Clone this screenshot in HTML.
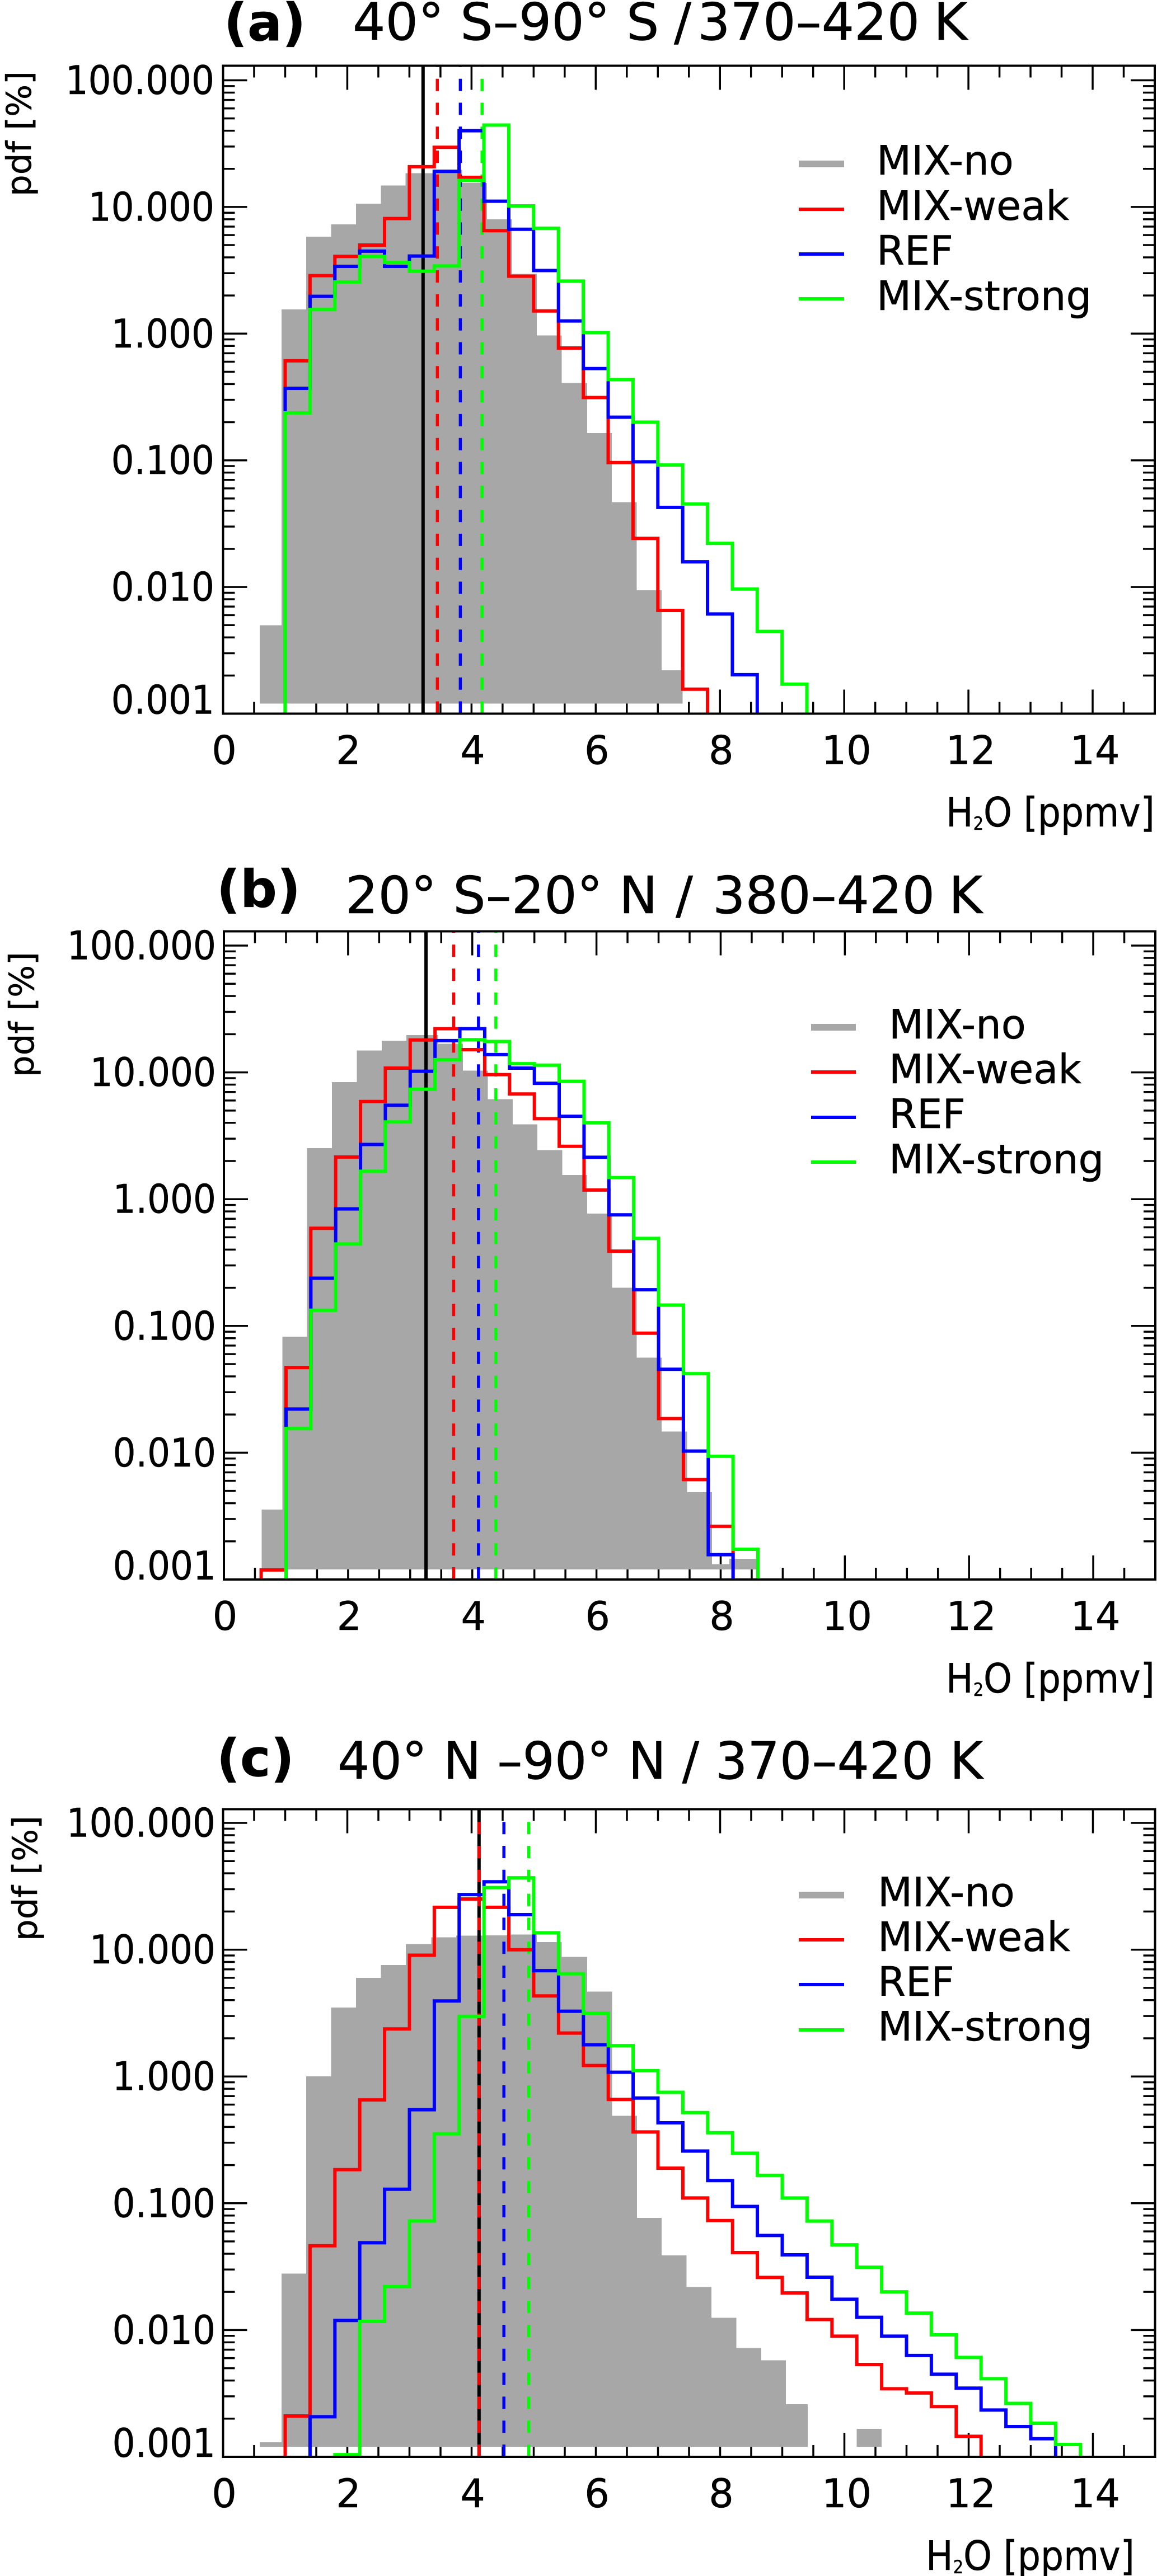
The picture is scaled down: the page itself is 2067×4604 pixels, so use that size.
<!DOCTYPE html>
<html lang="en">
<head>
<meta charset="utf-8">
<title>H2O pdf panels</title>
<style>
html,body{margin:0;padding:0;background:#fff;}
svg{display:block;}
text{font-family:"DejaVu Sans","Liberation Sans",sans-serif;fill:#000;stroke:#000;stroke-width:0.5px;}
.bold{font-weight:bold;}
</style>
</head>
<body>
<svg xmlns="http://www.w3.org/2000/svg" width="2067" height="4604" viewBox="0 0 2067 4604">
  <rect x="0" y="0" width="2067" height="4604" fill="#fff"/>

  <!-- Panel A -->
  <g id="marks-a"></g>
  <text class="bold" x="400" y="72" font-size="92">(a)</text>
  <text y="71" font-size="92"><tspan x="630">40° S–90° S</tspan><tspan x="1204">/</tspan><tspan x="1246">370–420</tspan><tspan x="1668">K</tspan></text>
  <text transform="translate(55,351) rotate(-90)" font-size="61">pdf [%]</text>
  <text transform="translate(1690,1477) scale(0.9,1)" font-size="72">H<tspan font-size="32" dy="6">2</tspan><tspan dy="-6">O [ppmv]</tspan></text>
  <g>
    <rect x="1427" y="287" width="81" height="12" fill="#a7a7a7"/>
    <rect x="1427" y="371" width="81" height="6" fill="#ff0000"/>
    <rect x="1427" y="451" width="81" height="6" fill="#0000ff"/>
    <rect x="1427" y="531" width="81" height="6" fill="#00ff00"/>
    <text x="1566" y="312" font-size="72">MIX-no</text>
    <text x="1566" y="393" font-size="72">MIX-weak</text>
    <text x="1566" y="473" font-size="72">REF</text>
    <text x="1566" y="554" font-size="72">MIX-strong</text>
  </g>

  <!-- Panel B -->
  <g id="marks-b"></g>
  <text class="bold" x="387" y="1621" font-size="92">(b)</text>
  <text y="1632" font-size="92"><tspan x="617">20° S–20° N</tspan><tspan x="1207">/</tspan><tspan x="1273">380–420</tspan><tspan x="1695">K</tspan></text>
  <text transform="translate(60,1925) rotate(-90)" font-size="61">pdf [%]</text>
  <text transform="translate(1690,3025) scale(0.9,1)" font-size="72">H<tspan font-size="32" dy="6">2</tspan><tspan dy="-6">O [ppmv]</tspan></text>
  <g>
    <rect x="1449" y="1830" width="80" height="12" fill="#a7a7a7"/>
    <rect x="1449" y="1913" width="80" height="6" fill="#ff0000"/>
    <rect x="1449" y="1994" width="80" height="6" fill="#0000ff"/>
    <rect x="1449" y="2074" width="80" height="6" fill="#00ff00"/>
    <text x="1588" y="1856" font-size="72">MIX-no</text>
    <text x="1588" y="1936" font-size="72">MIX-weak</text>
    <text x="1588" y="2016" font-size="72">REF</text>
    <text x="1588" y="2097" font-size="72">MIX-strong</text>
  </g>

  <!-- Panel C -->
  <g id="marks-c"></g>
  <text class="bold" x="387" y="3174" font-size="92">(c)</text>
  <text x="603" y="3179" font-size="92" textLength="1153" lengthAdjust="spacingAndGlyphs">40° N –90° N / 370–420 K</text>
  <text transform="translate(66,3469) rotate(-90)" font-size="61">pdf [%]</text>
  <text transform="translate(1654,4593) scale(0.9,1)" font-size="72">H<tspan font-size="32" dy="6">2</tspan><tspan dy="-6">O [ppmv]</tspan></text>
  <g>
    <rect x="1427" y="3381" width="81" height="12" fill="#a7a7a7"/>
    <rect x="1427" y="3464" width="81" height="6" fill="#ff0000"/>
    <rect x="1427" y="3544" width="81" height="6" fill="#0000ff"/>
    <rect x="1427" y="3625" width="81" height="6" fill="#00ff00"/>
    <text x="1568" y="3407" font-size="72">MIX-no</text>
    <text x="1568" y="3487" font-size="72">MIX-weak</text>
    <text x="1568" y="3567" font-size="72">REF</text>
    <text x="1568" y="3647" font-size="72">MIX-strong</text>
  </g>
</svg>
<script>
// ---- Shared axis data ----
const binWidth = 0.4;
const xTickValues = [0, 2, 4, 6, 8, 10, 12, 14];
const xTickLabels = ['0', '2', '4', '6', '8', '10', '12', '14'];
const yTickValues = [100, 10, 1, 0.1, 0.01, 0.001];
const yTickLabels = ['100.000', '10.000', '1.000', '0.100', '0.010', '0.001'];

// ---- Panel (a) 40S-90S / 370-420 K ----
const aGrayEdges = [0.59, 0.94, 1.34, 1.74, 2.14, 2.54, 2.94, 3.38, 3.85, 4.25, 4.65, 5.05, 5.45, 5.86, 6.26, 6.66, 7.06, 7.4];
const aGray = [0.005, 1.55, 5.83, 7.3, 10.6, 14.8, 18.5, 19.6, 15.5, 8.0, 2.96, 0.97, 0.407, 0.164, 0.0468, 0.0094, 0.0022];
const aRedStart = 1.0;
const aRed = [0.61, 2.87, 4.07, 5.0, 8.1, 20.8, 29.6, 17.1, 6.5, 2.84, 1.51, 0.77, 0.313, 0.096, 0.0242, 0.00653, 0.00156];
const aBlueStart = 1.0;
const aBlue = [0.37, 1.97, 3.4, 4.48, 3.4, 4.1, 19.1, 40, 11.1, 6.67, 3.15, 1.26, 0.53, 0.219, 0.0973, 0.0425, 0.0158, 0.00612, 0.00203];
const aGreenStart = 1.0;
const aGreen = [0.237, 1.55, 2.56, 4.07, 3.64, 3.11, 3.42, 16.2, 44.3, 10.2, 6.8, 2.6, 1.02, 0.434, 0.2, 0.0918, 0.0452, 0.0221, 0.00964, 0.00446, 0.00171];
const aMeans = [3.22, 3.45, 3.82, 4.17];

// ---- Panel (b) 20S-20N / 380-420 K ----
const bGrayEdges = [0.61, 0.94, 1.34, 1.74, 2.14, 2.54, 2.94, 3.45, 3.85, 4.25, 4.65, 5.05, 5.45, 5.85, 6.25, 6.65, 7.05, 7.46, 7.86, 8.14, 8.58];
const bGray = [0.00356, 0.0824, 2.53, 8.4, 14.9, 17.8, 19.7, 16.8, 10.3, 6.14, 3.89, 2.44, 1.55, 0.77, 0.2, 0.0562, 0.0147, 0.00489, 0.00132, 0.00146];
const bRedStart = 0.6;
const bRed = [0.00119, 0.047, 0.589, 2.15, 5.89, 10.8, 18, 22.1, 15.1, 9.6, 6.75, 4.31, 2.61, 1.18, 0.389, 0.0877, 0.0186, 0.00614, 0.00263];
const bBlueStart = 1.0;
const bBlue = [0.0221, 0.238, 0.838, 2.7, 5.5, 10.2, 17.8, 22.1, 13.8, 10.8, 8.2, 4.5, 2.14, 0.752, 0.193, 0.0455, 0.0103, 0.00157];
const bGreenStart = 1.0;
const bGreen = [0.0155, 0.133, 0.443, 1.66, 4.06, 7.36, 12.6, 18.1, 17.5, 11.7, 11.4, 8.5, 4.0, 1.48, 0.49, 0.146, 0.042, 0.00938, 0.00173];
const bMeans = [3.255, 3.70, 4.10, 4.38];

// ---- Panel (c) 40N-90N / 370-420 K ----
const cGrayEdges = [0.59, 0.94, 1.34, 1.74, 2.14, 2.54, 2.94, 3.35, 3.75, 4.2, 4.63, 5.05, 5.45, 5.86, 6.26, 6.66, 7.06, 7.46, 7.86, 8.26, 8.66, 9.06, 9.41, 10.2, 10.6];
const cGray = [0.0013, 0.0279, 1.0, 3.49, 6.0, 7.57, 11.07, 12.5, 12.9, 13.0, 13.2, 11.5, 8.76, 4.67, 0.49, 0.0767, 0.0387, 0.0219, 0.0125, 0.0072, 0.00577, 0.0026, 0, 0.00166];
const cRedStart = 1.0;
const cRed = [0.0021, 0.0462, 0.184, 0.653, 2.37, 9.04, 21.6, 25.1, 21.6, 9.98, 4.32, 2.2, 1.22, 0.659, 0.365, 0.189, 0.11, 0.073, 0.0408, 0.026, 0.0196, 0.0121, 0.00895, 0.00535, 0.00344, 0.00319, 0.00249, 0.00145];
const cBlueStart = 1.4;
const cBlue = [0.00207, 0.0119, 0.0488, 0.129, 0.547, 3.94, 27.2, 34.3, 18.9, 6.83, 3.27, 1.78, 1.08, 0.676, 0.431, 0.258, 0.151, 0.0944, 0.0557, 0.0392, 0.0261, 0.0175, 0.0126, 0.00895, 0.0063, 0.00448, 0.00348, 0.00234, 0.00173, 0.00139];
const cGreenStart = 1.8;
const cGreen = [0.00104, 0.0117, 0.022, 0.0725, 0.353, 2.98, 30.9, 36.9, 13.6, 6.46, 3.15, 1.75, 1.11, 0.75, 0.519, 0.36, 0.248, 0.166, 0.11, 0.0724, 0.047, 0.0313, 0.02, 0.0136, 0.00916, 0.00608, 0.00413, 0.00264, 0.00184, 0.00125];
const cMeans = [4.12, 4.12, 4.52, 4.92];

const SVGNS = 'http://www.w3.org/2000/svg';
const GRAY = '#a7a7a7';

function make(tag, attrs, parent) {
  const e = document.createElementNS(SVGNS, tag);
  for (const k in attrs) e.setAttribute(k, attrs[k]);
  parent.appendChild(e);
  return e;
}

function drawPanel(cfg) {
  const root = document.getElementById(cfg.id);
  const xOf = v => cfg.left + (v / 15) * (cfg.right - cfg.left);
  const yOf = v => cfg.bottom - (Math.log10(v) + 3) * cfg.decade;

  // ticks (drawn first so the grey histogram covers them)
  const ticks = make('g', {stroke: '#000', 'stroke-width': 3.5, fill: 'none'}, root);
  
  
  for (let k = 1; k < 30; k++) {
    const v = k * 0.5;
    const len = k % 4 === 0 ? 43 : 21;
    const x = xOf(v);
    const bt = make('line', {x1: x, x2: x, y1: cfg.bottom, y2: cfg.bottom - len}, ticks);
    
    
    const tt = make('line', {x1: x, x2: x, y1: cfg.top, y2: cfg.top + len}, ticks);
    
    
  }
  for (let exp = -3; exp <= 2; exp++) {
    for (let m = 1; m <= 9; m++) {
      const v = m * Math.pow(10, exp);
      const y = yOf(v);
      if (y < cfg.top || y > cfg.bottom) continue;
      const len = m === 1 ? 43 : 21;
      const lt = make('line', {x1: cfg.left, x2: cfg.left + len, y1: y, y2: y}, ticks);
      
      
      const rt = make('line', {x1: cfg.right, x2: cfg.right - len, y1: y, y2: y}, ticks);
      
      
    }
  }

  // grey MIX-no histogram
  const grayG = make('g', {fill: GRAY, 'shape-rendering': 'crispEdges'}, root);
  
  
  const base = cfg.bottom - 18;
  cfg.gray.forEach((v, i) => {
    if (!(v > 0)) return;
    const x0 = xOf(cfg.grayEdges[i]);
    const x1 = xOf(cfg.grayEdges[i + 1]);
    const y = yOf(v);
    const bar = make('rect', {x: x0, y: y, width: x1 - x0, height: Math.max(base - y, 0)}, grayG);
    
    
  });

  // vertical mean lines
  const meanColors = ['#000000', '#ff0000', '#0000ff', '#00ff00'];
  cfg.means.forEach((v, i) => {
    const x = xOf(v);
    const attrs = {x1: x, x2: x, y1: cfg.bottom, y2: cfg.top, stroke: meanColors[i], 'stroke-width': i === 0 ? 6 : 5.5};
    if (i > 0) attrs['stroke-dasharray'] = '22 20.8';
    const ln = make('line', attrs, root);
    
    
  });

  // step lines
  const stairs = (vals, start, color, name) => {
    let d = 'M' + xOf(start) + ' ' + cfg.bottom;
    vals.forEach((v, i) => {
      d += ' V' + yOf(v) + ' H' + xOf(start + (i + 1) * binWidth);
    });
    d += ' V' + cfg.bottom;
    const p = make('path', {d: d, fill: 'none', stroke: color, 'stroke-width': 6, 'stroke-linejoin': 'miter'}, root);
    
    
  };
  stairs(cfg.red, cfg.redStart, '#ff0000', 'mix-weak-line');
  stairs(cfg.blue, cfg.blueStart, '#0000ff', 'ref-line');
  stairs(cfg.green, cfg.greenStart, '#00ff00', 'mix-strong-line');

  // frame
  const frame = make('rect', {x: cfg.left, y: cfg.top, width: cfg.right - cfg.left, height: cfg.bottom - cfg.top, fill: 'none', stroke: '#000', 'stroke-width': 4}, root);
  
  

  // y labels
  yTickValues.forEach((v, i) => {
    const last = i === yTickValues.length - 1;
    const by = last ? yOf(v) : yOf(v) + 24.5;
    const t = make('text', {transform: 'translate(' + cfg.yLabelX + ',' + by + ') scale(0.92,1)', 'font-size': 70, 'text-anchor': 'end'}, root);
    t.textContent = yTickLabels[i];
    
    
  });
  // x labels
  xTickValues.forEach((v, i) => {
    const t = make('text', {x: xOf(v) + (v >= 10 ? 4 : 2), y: cfg.bottom + 90, 'font-size': 70, 'text-anchor': 'middle'}, root);
    t.textContent = xTickLabels[i];
    
    
  });
}

drawPanel({id: 'marks-a', left: 398.5, right: 2063, top: 117.5, bottom: 1275.5, decade: 226.4, yLabelX: 383,
  gray: aGray, grayEdges: aGrayEdges, means: aMeans,
  red: aRed, redStart: aRedStart, blue: aBlue, blueStart: aBlueStart, green: aGreen, greenStart: aGreenStart});
drawPanel({id: 'marks-b', left: 400, right: 2064, top: 1664.5, bottom: 2823, decade: 226.6, yLabelX: 386,
  gray: bGray, grayEdges: bGrayEdges, means: bMeans,
  red: bRed, redStart: bRedStart, blue: bBlue, blueStart: bBlueStart, green: bGreen, greenStart: bGreenStart});
drawPanel({id: 'marks-c', left: 398.5, right: 2063.5, top: 3233.5, bottom: 4391, decade: 226.6, yLabelX: 385,
  gray: cGray, grayEdges: cGrayEdges, means: cMeans,
  red: cRed, redStart: cRedStart, blue: cBlue, blueStart: cBlueStart, green: cGreen, greenStart: cGreenStart});
</script>
</body>
</html>
